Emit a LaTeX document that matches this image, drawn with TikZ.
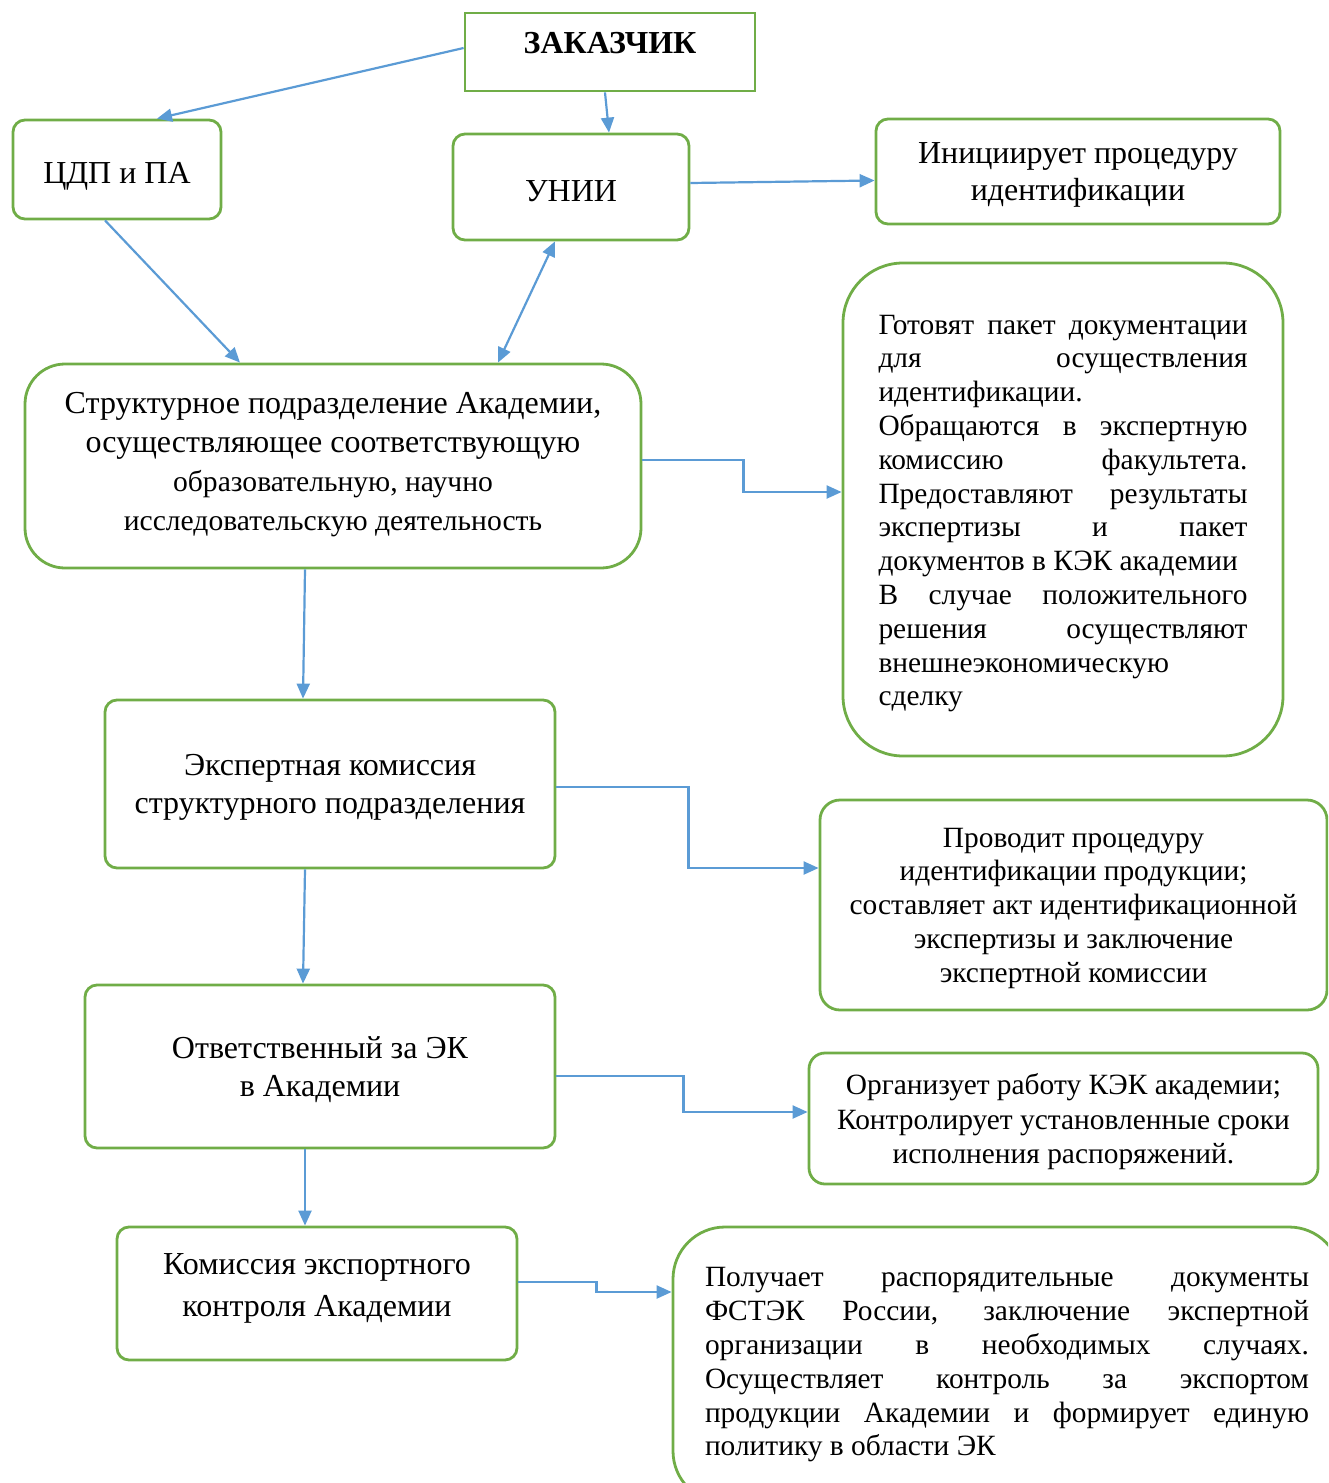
\documentclass[tikz,border=0pt]{standalone}
\usepackage{fontspec}
\setmainfont{Liberation Serif}
\usetikzlibrary{arrows.meta}
\definecolor{boxgreen}{HTML}{70AD47}
\definecolor{linkblue}{HTML}{5B9BD5}
\hyphenpenalty=10000

\begin{document}
\begin{tikzpicture}[x=0.5pt, y=-0.5pt,
    box/.style={draw=boxgreen, line width=1.4pt, rounded corners=6pt, align=center, inner sep=0pt,
        font=\fontsize{16}{19}\selectfont},
    midbox/.style={box, text depth=0pt},
    small/.style={font=\fontsize{14.7}{16.9}\selectfont},
    link/.style={draw=linkblue, line width=1.1pt, -{Triangle[length=7.5pt,width=6.5pt]}},
    twolink/.style={link, {Triangle[length=7.5pt,width=6.5pt]}-{Triangle[length=7.5pt,width=6.5pt]}}
]
\useasboundingbox (0,0) rectangle (1328,1483);
\begin{scope}
\clip (0,0) rectangle (1328,1483);

% top row
\node[box, rounded corners=0pt, minimum width=145pt, minimum height=39pt, text depth=9pt,
    font=\fontsize{16}{19}\selectfont\bfseries] (zak) at (610,52) {ЗАКАЗЧИК};
\node[midbox, minimum width=104pt, minimum height=49.5pt, text height=14pt] (cdp) at (117,169.5) {ЦДП и ПА};
\node[midbox, minimum width=118pt, minimum height=53pt, text height=14pt] (unii) at (571,187) {УНИИ};
\node[midbox, minimum width=202pt, minimum height=52.5pt, font=\fontsize{16}{18.5}\selectfont] (init) at (1078,171.5)
    {Инициирует процедуру\\ идентификации};

% left column
\node[midbox, rounded corners=20pt, minimum width=308pt, minimum height=102pt, text depth=5pt,
    font=\fontsize{16}{19.5}\selectfont] (struct) at (333,466)
    {Структурное подразделение Академии,\\ осуществляющее соответствующую\\
    {\fontsize{14.8}{19.5}\selectfont образовательную, научно}\\
    {\fontsize{14.8}{19.5}\selectfont исследовательскую деятельность}};
\node[midbox, minimum width=225pt, minimum height=84pt] (exp) at (330,784)
    {Экспертная комиссия\\ структурного подразделения};
\node[midbox, minimum width=235pt, minimum height=81.5pt] (resp) at (320,1066.5)
    {Ответственный за ЭК\\ в Академии};
\node[midbox, minimum width=200pt, minimum height=66.5pt, text depth=8pt,
    font=\fontsize{16}{21}\selectfont] (kom) at (317,1293.5)
    {Комиссия экспортного\\ контроля Академии};

% right column
\node[box, small, rounded corners=30pt, minimum width=220pt, minimum height=246.5pt, text width=184.5pt,
    align=justify, text depth=185pt] (prep) at (1063,509.5)
    {Готовят пакет документации\linebreak для осуществления\linebreak идентификации.\\
    Обращаются в экспертную\linebreak комиссию факультета.\linebreak
    Предоставляют результаты\linebreak экспертизы и пакет\linebreak
    документов в КЭК академии\\ В случае положительного\linebreak
    решения осуществляют\linebreak внешнеэкономическую\\ сделку};
\node[midbox, small, rounded corners=10pt, minimum width=253.5pt, minimum height=105pt] (proc) at (1073.5,905)
    {Проводит процедуру\\ идентификации продукции;\\ составляет акт идентификационной\\
    экспертизы и заключение\\ экспертной комиссии};
\node[midbox, small, rounded corners=8pt, minimum width=254.5pt, minimum height=65.5pt,
    font=\fontsize{14.7}{17.25}\selectfont] (org) at (1063.5,1118.5)
    {Организует работу КЭК академии;\\ Контролирует установленные сроки\\ исполнения распоряжений.};
\node[box, small, rounded corners=26pt, minimum width=334pt, minimum height=138pt, text width=302pt,
    align=justify] (recv) at (1007,1365)
    {Получает распорядительные документы\linebreak ФСТЭК России, заключение экспертной\linebreak
    организации в необходимых случаях.\linebreak Осуществляет контроль за экспортом\linebreak
    продукции Академии и формирует единую\linebreak политику в области ЭК};

% connectors
\draw[link] ([yshift=2pt]zak.west) -- ([xshift=20pt]cdp.north);
\draw[link] ([xshift=-2.5pt]zak.south) -- ([xshift=19pt]unii.north);
\draw[link] ([yshift=2pt]unii.east) -- ([yshift=-4.5pt]init.west);
\draw[link] ([xshift=-6pt]cdp.south) -- ([xshift=-46.5pt]struct.north);
\draw[twolink] ([xshift=-8pt]unii.south) -- ([xshift=82.5pt]struct.north);
\draw[link] ([yshift=3pt]struct.east) -- ++(101,0) |- ([yshift=8.75pt]prep.west);
\draw[link] ([xshift=-14pt]struct.south) -- ([xshift=-13.5pt]exp.north);
\draw[link] ([yshift=-1.5pt]exp.east) -- ++(132,0) |- ([yshift=18.5pt]proc.west);
\draw[link] ([xshift=-12.5pt]exp.south) -- ([xshift=-8.5pt]resp.north);
\draw[link] ([yshift=-4.75pt]resp.east) -- ++(127,0) |- ([yshift=3.25pt]org.west);
\draw[link] ([xshift=-7.5pt]resp.south) -- ([xshift=-6pt]kom.north);
\draw[link] ([yshift=5.75pt]kom.east) -- ++(78,0) |- ([yshift=36.5pt]recv.west);
\end{scope}
\end{tikzpicture}
\end{document}
